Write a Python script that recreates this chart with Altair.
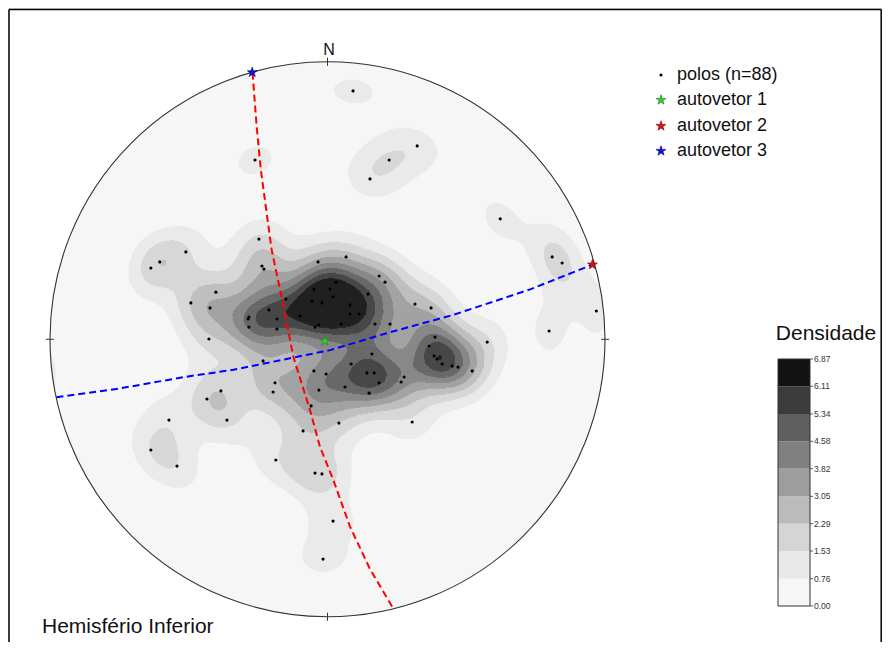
import numpy as np
import pandas as pd
import altair as alt

# ---------------- data (equal-area projection, x = east, y = north, unit circle) -------------
pole_x = [0.092, -0.261, 0.323, 0.222, 0.153, 0.622, 0.809, 0.845, 0.968, 0.798,
          0.067, 0.186, 0.207, 0.031, 0.009, 0.146, 0.315, 0.373, 0.081, 0.081,
          0.114, 0.049, 0.171, 0.225, 0.387, 0.575, 0.366, 0.160, 0.384, 0.395,
          0.413, 0.449, 0.470, 0.085, -0.247, -0.510, -0.604, -0.636, -0.236, -0.229,
          -0.034, -0.402, -0.492, -0.423, -0.049, -0.150, -0.056, -0.211, -0.283, -0.286,
          -0.182, -0.283, -0.182, -0.031, -0.045, -0.427, -0.232, -0.049, -0.005, -0.189,
          -0.196, -0.031, -0.384, -0.434, -0.059, -0.362, -0.571, -0.088, -0.636, -0.186,
          -0.542, -0.045, -0.020, -0.016, 0.142, 0.168, 0.276, 0.265, 0.186, 0.063,
          0.150, 0.521, 0.041, 0.305, 0.020, -0.020, 0.020, -0.099]
pole_y = [0.895, 0.646, 0.697, 0.646, 0.578, 0.434, 0.297, 0.275, 0.102, 0.030,
          0.297, 0.228, 0.206, 0.206, 0.181, 0.163, 0.127, 0.113, 0.124, 0.091,
          0.091, 0.055, 0.055, 0.055, 0.008, -0.010, -0.024, -0.053, -0.060, -0.071,
          -0.089, -0.096, -0.100, -0.089, 0.361, 0.315, 0.279, 0.257, 0.264, 0.253,
          0.279, 0.170, 0.131, 0.113, 0.181, 0.145, 0.138, 0.106, 0.080, 0.073,
          0.073, 0.044, 0.037, 0.052, 0.044, 0.001, -0.078, -0.114, -0.125, -0.157,
          -0.190, -0.183, -0.186, -0.215, -0.240, -0.291, -0.291, -0.330, -0.399, -0.435,
          -0.457, -0.482, -0.485, -0.792, -0.121, -0.121, -0.136, -0.154, -0.157, -0.172,
          -0.194, -0.114, -0.302, -0.298, -0.655, 0.131, 0.153, 0.084]

eig_names = ["autovetor 1", "autovetor 2", "autovetor 3"]
eig_x = [-0.009, 0.954, -0.271]
eig_y = [-0.006, 0.269, 0.962]
eig_colors = ["#33cc33", "#dd1111", "#1111dd"]
eig_edges = ["#1f7a1f", "#7a0000", "#00007a"]

red_gc_x = [-0.270, -0.255, -0.240, -0.223, -0.201, -0.163, -0.123, -0.063, -0.027, 0.021, 0.081, 0.153, 0.235]
red_gc_y = [0.961, 0.766, 0.610, 0.484, 0.322, 0.142, -0.063, -0.255, -0.388, -0.507, -0.675, -0.828, -0.967]
blue_gc_x = [-0.976, -0.748, -0.492, -0.339, 0.009, 0.213, 0.453, 0.730, 0.954]
blue_gc_y = [-0.209, -0.177, -0.132, -0.110, -0.039, 0.022, 0.088, 0.180, 0.269]

levels = [0.00, 0.76, 1.53, 2.29, 3.05, 3.82, 4.58, 5.34, 6.11, 6.87]
level_labels = ["0.00", "0.76", "1.53", "2.29", "3.05", "3.82", "4.58", "5.34", "6.11", "6.87"]
band_colors = ["#f6f6f6", "#e9e9e9", "#d5d5d5", "#bbbbbb", "#9d9d9d",
               "#808080", "#5f5f5f", "#3b3b3b", "#121212"]
kappa = 85.0   # concentration of the spherical (Fisher) counting kernel

FONT = "Liberation Sans"
R_PX = 277.5

# ---------------- density (spherical kernel, axial) ----------------
def to_xyz(x, y):
    x = np.asarray(x, float); y = np.asarray(y, float)
    r = np.minimum(np.hypot(x, y), 1.0)
    th = 2 * np.arcsin(r / np.sqrt(2))
    az = np.arctan2(x, y)
    return np.stack([np.sin(th) * np.sin(az), np.sin(th) * np.cos(az), np.cos(th)], axis=-1)

pv = to_xyz(pole_x, pole_y)
n = len(pole_x)

def density(x, y):
    g = to_xyz(x, y)
    c = np.abs(g @ pv.T)
    return (kappa / n) * np.exp(kappa * (c - 1)).sum(axis=1)

thr = np.array(levels[1:-1])
dy = 1.0 / R_PX
rows = []
nrows = int(round(2.0 / dy))
for j in range(nrows):
    y0 = -1 + j * dy
    y1 = y0 + dy
    yc = 0.5 * (y0 + y1)
    if abs(yc) >= 1:
        continue
    half = np.sqrt(1 - yc * yc)
    m = max(2, int(np.ceil(2 * half * R_PX)))
    e = np.linspace(-half, half, m + 1)
    xc = 0.5 * (e[:-1] + e[1:])
    d = density(xc, np.full_like(xc, yc))
    b = np.digitize(d, thr)
    start = 0
    for i in range(1, m + 1):
        if i == m or b[i] != b[start]:
            rows.append((e[start], e[i], y0, y1 + 0.5 / R_PX, int(b[start])))
            start = i
dens_df = pd.DataFrame(rows, columns=["x", "x2", "y", "y2", "band"])

# ---------------- scales ----------------
xs = alt.Scale(domain=[-1, 1], range=[41.8, 597.2], nice=False, zero=False)
ys = alt.Scale(domain=[-1, 1], range=[608.8, 53.8], nice=False, zero=False)

def X(f):
    return alt.X(f, type="quantitative", scale=xs, axis=None)

def Y(f):
    return alt.Y(f, type="quantitative", scale=ys, axis=None)

dens = alt.Chart(dens_df).mark_rect(strokeWidth=0).encode(
    x=X("x"), x2="x2", y=Y("y"), y2="y2",
    color=alt.Color("band:O", scale=alt.Scale(domain=list(range(9)), range=band_colors), legend=None),
)

prim = alt.Chart(pd.DataFrame({"x": [0.0], "y": [0.0]})).mark_point(
    shape="circle", size=(2 * R_PX) ** 2, filled=False, stroke="#333333", strokeWidth=1.1, opacity=1
).encode(x=X("x"), y=Y("y"))

tick_len = 4.0 / R_PX
ticks_df = pd.DataFrame({
    "x": [0, 0, -1 - tick_len, 1 - tick_len],
    "x2": [0, 0, -1 + tick_len, 1 + tick_len],
    "y": [1 - tick_len, -1 - tick_len, 0, 0],
    "y2": [1 + tick_len, -1 + tick_len, 0, 0],
})
ticks = alt.Chart(ticks_df).mark_rule(color="#333333", strokeWidth=1).encode(
    x=X("x"), x2="x2", y=Y("y"), y2="y2")

red_df = pd.DataFrame({"x": red_gc_x, "y": red_gc_y, "o": range(len(red_gc_x))})
blue_df = pd.DataFrame({"x": blue_gc_x, "y": blue_gc_y, "o": range(len(blue_gc_x))})
red_line = alt.Chart(red_df).mark_line(color="#ff0000", strokeWidth=2, strokeDash=[7, 4]).encode(
    x=X("x"), y=Y("y"), order="o:Q")
blue_line = alt.Chart(blue_df).mark_line(color="#0000ff", strokeWidth=2, strokeDash=[7, 4]).encode(
    x=X("x"), y=Y("y"), order="o:Q")

pts = alt.Chart(pd.DataFrame({"x": pole_x, "y": pole_y})).mark_circle(
    size=10, color="#000000", opacity=1).encode(x=X("x"), y=Y("y"))

STAR = ("M0,-1L0.2245,-0.309L0.951,-0.309L0.363,0.118L0.588,0.809L0,0.382"
        "L-0.588,0.809L-0.363,0.118L-0.951,-0.309L-0.2245,-0.309Z")
eig_df = pd.DataFrame({"x": eig_x, "y": eig_y, "name": eig_names})
stars = alt.Chart(eig_df).mark_point(shape=STAR, size=110, filled=True, opacity=1, strokeWidth=0.6).encode(
    x=X("x"), y=Y("y"),
    fill=alt.Fill("name:N", scale=alt.Scale(domain=eig_names, range=eig_colors), legend=None),
    stroke=alt.Stroke("name:N", scale=alt.Scale(domain=eig_names, range=eig_edges), legend=None),
)

# ---------------- annotation / legend ----------------
layers = [dens, prim, ticks, red_line, blue_line, pts, stars]

one = pd.DataFrame({"a": [0]})
def txt(s, x, y, size, align="left", color="#111111", baseline="alphabetic"):
    return alt.Chart(one).mark_text(text=s, font=FONT, fontSize=size, align=align,
                                    baseline=baseline, color=color).encode(
        x=alt.value(x), y=alt.value(y))

layers.append(txt("N", 321, 47, 16, align="center"))
layers.append(txt("Hemisfério Inferior", 34, 625, 21))

leg_rows_y = [67, 92, 118, 143]
leg_text = ["polos (n=88)"] + eig_names
layers.append(alt.Chart(one).mark_circle(size=10, color="black", opacity=1).encode(
    x=alt.value(653), y=alt.value(leg_rows_y[0])))
for k in range(3):
    layers.append(alt.Chart(one).mark_point(shape=STAR, size=110, filled=True, opacity=1,
                                            fill=eig_colors[k], stroke=eig_edges[k], strokeWidth=0.6).encode(
        x=alt.value(653), y=alt.value(leg_rows_y[k + 1])))
for k in range(4):
    layers.append(txt(leg_text[k], 669, leg_rows_y[k], 18, baseline="middle"))

# colorbar
cb_scale = alt.Scale(domain=[levels[0], levels[-1]], range=[598, 351], nice=False, zero=False)
cb_df = pd.DataFrame({"lo": levels[:-1], "hi": levels[1:], "band": list(range(9))})
cb = alt.Chart(cb_df).mark_rect(strokeWidth=0).encode(
    x=alt.value(770), x2=alt.value(802),
    y=alt.Y("lo:Q", scale=cb_scale, axis=None), y2="hi:Q",
    color=alt.Color("band:O", scale=alt.Scale(domain=list(range(9)), range=band_colors), legend=None))
cb_border = alt.Chart(pd.DataFrame({"lo": [levels[0]], "hi": [levels[-1]]})).mark_rect(
    fillOpacity=0, stroke="#333333", strokeWidth=1).encode(
    x=alt.value(770), x2=alt.value(802),
    y=alt.Y("lo:Q", scale=cb_scale, axis=None), y2="hi:Q")
lab_df = pd.DataFrame({"v": levels, "t": level_labels})
cb_ticks = alt.Chart(lab_df).mark_rule(color="#333333", strokeWidth=0.8).encode(
    x=alt.value(802), x2=alt.value(805), y=alt.Y("v:Q", scale=cb_scale, axis=None))
cb_labels = alt.Chart(lab_df).mark_text(font=FONT, fontSize=8.5, align="left", baseline="middle",
                                        color="#333333").encode(
    x=alt.value(806), y=alt.Y("v:Q", scale=cb_scale, axis=None), text="t:N")
layers += [cb, cb_border, cb_ticks, cb_labels]
layers.append(txt("Densidade", 818, 332, 21, align="center"))

# frame
frame_col = "#000000"
layers.append(alt.Chart(one).mark_rule(color=frame_col, strokeWidth=1.5).encode(
    x=alt.value(1), x2=alt.value(873.5), y=alt.value(1.5)))
layers.append(alt.Chart(one).mark_rule(color=frame_col, strokeWidth=1.5).encode(
    x=alt.value(1), y=alt.value(1.5), y2=alt.value(640)))
layers.append(alt.Chart(one).mark_rule(color=frame_col, strokeWidth=1.5).encode(
    x=alt.value(873.2), y=alt.value(1.5), y2=alt.value(640)))

chart = alt.layer(*layers).resolve_scale(
    x="independent", y="independent", color="independent", fill="independent", stroke="independent"
).properties(
    width=874, height=634, padding=0, autosize=alt.AutoSizeParams(type="none")
).configure_view(stroke=None).configure(background="white")

chart.save("out.html", embed_options={"renderer": "svg", "actions": False})
